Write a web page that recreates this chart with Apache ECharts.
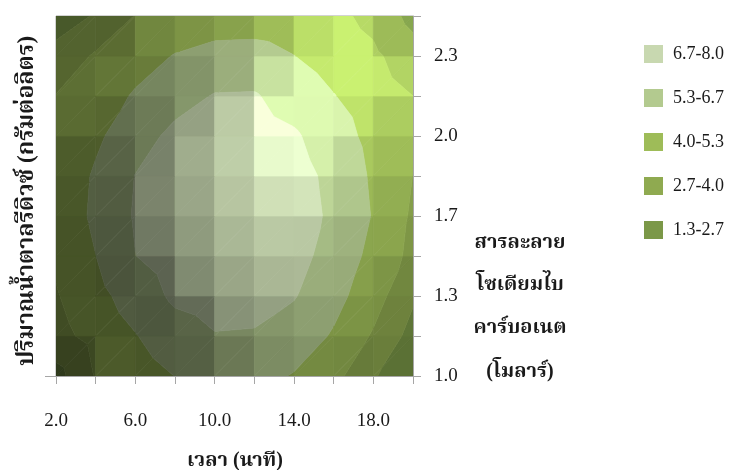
<!DOCTYPE html>
<html><head><meta charset="utf-8">
<script src="https://cdn.jsdelivr.net/npm/echarts@6/dist/echarts.min.js"></script>
<style>html,body{margin:0;padding:0;background:#fff}#c{width:731px;height:470px}</style>
</head><body><div id="c"></div>
<script>
// ---- data ----
const xValues = [2, 4, 6, 8, 10, 12, 14, 16, 18, 20];
const yValues = [1.0, 1.1667, 1.3333, 1.5, 1.6667, 1.8333, 2.0, 2.1667, 2.3333, 2.5];
// z values at grid vertices, one array per y value (columns follow xValues)
const z_y100 = [2.20, 4.10, 4.71, 5.35, 5.80, 5.75, 5.25, 4.43, 2.80, 1.60];
const z_y117 = [3.55, 4.47, 5.27, 6.10, 6.60, 6.55, 6.05, 5.20, 3.85, 2.20];
const z_y133 = [3.90, 4.92, 5.94, 6.91, 7.19, 7.14, 6.75, 5.75, 4.59, 2.85];
const z_y150 = [4.20, 5.32, 6.65, 7.27, 7.55, 7.49, 7.10, 6.19, 4.97, 3.65];
const z_y167 = [4.45, 5.58, 6.79, 7.40, 7.68, 7.63, 7.24, 6.44, 5.25, 3.80];
const z_y183 = [4.35, 5.50, 6.70, 7.31, 7.59, 7.54, 7.15, 6.34, 5.14, 3.98];
const z_y200 = [4.15, 5.10, 6.10, 7.00, 7.28, 7.23, 6.84, 5.94, 4.94, 4.00];
const z_y217 = [4.05, 4.65, 5.47, 6.15, 6.75, 6.78, 6.08, 5.38, 4.65, 4.00];
const z_y233 = [3.10, 4.17, 4.78, 5.40, 5.72, 5.75, 5.35, 4.78, 4.25, 3.25];
const z_y250 = [2.00, 2.78, 4.05, 4.45, 4.70, 4.75, 4.60, 4.35, 3.62, 2.25];
const zRows = [z_y100, z_y117, z_y133, z_y150, z_y167, z_y183, z_y200, z_y217, z_y233, z_y250];

const bandEdges = [1.333, 2.667, 4.0, 5.333, 6.667, 8.0];
const bandLabels = ['1.3-2.7', '2.7-4.0', '4.0-5.3', '5.3-6.7', '6.7-8.0'];
const xTickLabels = ['2.0', '6.0', '10.0', '14.0', '18.0'];
const yTickLabels = ['1.0', '1.3', '1.7', '2.0', '2.3'];

// ---- style ----
const bandColors = ['#7b9848', '#8faa50', '#9ebc58', '#b3ca8f', '#c8d8b0'];
const SERIF = "'Liberation Serif','Times New Roman',serif";
const THAI = "'Liberation Serif','Noto Serif Thai','Noto Sans Thai','Loma','Garuda','Norasi',serif";
const AXIS_GRAY = '#a6a6a6';
const TEXT = '#1a1a1a';
const H = (function(){const v=[0.5,0.4,0.77];const l=Math.hypot(v[0],v[1],v[2]);return v.map(a=>a/l);})();

function shadeColor(hex, f) {
  const r = parseInt(hex.slice(1,3),16), g = parseInt(hex.slice(3,5),16), b = parseInt(hex.slice(5,7),16);
  const c = v => Math.max(0, Math.min(255, Math.round(v * f)));
  return 'rgb(' + c(r) + ',' + c(g) + ',' + c(b) + ')';
}
function lightFactor(gx, gy) {
  const len = Math.hypot(gx, gy, 1);
  const nx = -gx/len, ny = -gy/len, nz = 1/len;
  let d = 0.27 + 0.36*nx + 0.25*ny + 0.6*nz;
  if (d < 0.5) d = 0.5 - (0.5 - d) * 0.4;
  const s = Math.max(0, nx*H[0] + ny*H[1] + nz*H[2]);
  return d + 0.27 * Math.pow(s, 20);
}
function clipPoly(poly, level, keepAbove) {
  const out = [];
  const inside = p => keepAbove ? p[2] >= level : p[2] <= level;
  for (let k = 0; k < poly.length; k++) {
    const a = poly[k], b = poly[(k+1) % poly.length];
    const ia = inside(a), ib = inside(b);
    if (ia) out.push(a);
    if (ia !== ib) {
      const t = (level - a[2]) / (b[2] - a[2]);
      out.push([a[0] + t*(b[0]-a[0]), a[1] + t*(b[1]-a[1]), level]);
    }
  }
  return out;
}

const cells = [];
for (let j = 0; j < yValues.length - 1; j++)
  for (let i = 0; i < xValues.length - 1; i++)
    cells.push([xValues[i], yValues[j], i, j]);

function renderItem(params, api) {
  const i = api.value(2), j = api.value(3);
  const P = (a, b) => { const c = api.coord([xValues[a], yValues[b]]); return [c[0], c[1], zRows[b][a]]; };
  const p00 = P(i, j), p10 = P(i+1, j), p11 = P(i+1, j+1), p01 = P(i, j+1);
  const gx = ((p10[2]-p00[2]) + (p11[2]-p01[2])) / 2;
  const gy = ((p01[2]-p00[2]) + (p11[2]-p10[2])) / 2;
  const f = lightFactor(gx, gy);
  const children = [];
  [[p00, p10, p11], [p00, p11, p01]].forEach(tri => {
    for (let b = 0; b < bandColors.length; b++) {
      let poly = tri;
      if (b > 0) poly = clipPoly(poly, bandEdges[b], true);
      if (poly.length >= 3 && b < bandColors.length - 1) poly = clipPoly(poly, bandEdges[b+1], false);
      if (poly.length < 3) continue;
      const col = shadeColor(bandColors[b], f);
      children.push({ type: 'polygon', shape: { points: poly.map(p => [p[0], p[1]]) },
        style: { fill: col, stroke: col, lineWidth: 0.7 } });
    }
  });
  return { type: 'group', children };
}

const legendSeries = bandLabels.map((lab, k) => ({
  type: 'bar', name: lab, data: [], itemStyle: { color: bandColors[k], opacity: 1 }
}));

const chart = echarts.init(document.getElementById('c'), null, { renderer: 'canvas' });
chart.setOption({
  animation: false,
  backgroundColor: '#fff',
  grid: { left: 56, top: 16, width: 357, height: 360, show: true, borderColor: AXIS_GRAY, borderWidth: 1, backgroundColor: 'transparent' },
  xAxis: {
    type: 'value', min: 2, max: 20, interval: 2, position: 'bottom',
    axisLine: { show: true, lineStyle: { color: AXIS_GRAY, width: 1 } },
    axisTick: { show: true, length: 8, lineStyle: { color: AXIS_GRAY } },
    splitLine: { show: false },
    axisLabel: { margin: 36, fontSize: 19, fontFamily: SERIF, color: TEXT,
      formatter: v => { const k = Math.round((v - 2) / 2); return (k % 2 === 0 && k/2 < xTickLabels.length) ? xTickLabels[k/2] : ''; } }
  },
  yAxis: {
    type: 'value', min: 1, max: 2.5, interval: 1/6, position: 'right',
    axisLine: { show: true, lineStyle: { color: AXIS_GRAY, width: 1 } },
    axisTick: { show: true, length: 8, lineStyle: { color: AXIS_GRAY } },
    splitLine: { show: false },
    axisLabel: { margin: 21, fontSize: 19, fontFamily: SERIF, color: TEXT,
      formatter: v => { const k = Math.round((v - 1) * 6); return (k % 2 === 0 && k/2 < yTickLabels.length) ? yTickLabels[k/2] : ''; } }
  },
  legend: {
    orient: 'vertical', left: 639, top: 40, itemWidth: 19, itemHeight: 18, itemGap: 26,
    icon: 'rect', selectedMode: false,
    data: bandLabels.slice().reverse(),
    textStyle: { fontSize: 18, fontFamily: SERIF, color: TEXT, padding: [0, 0, 0, 5] }
  },
  graphic: [
    { type: 'line', shape: { x1: 45, y1: 376.5, x2: 56, y2: 376.5 }, style: { stroke: AXIS_GRAY, lineWidth: 1 } },
    { type: 'text', x: 235, y: 461, style: { text: 'เวลา (นาที)', font: 'bold 20px ' + THAI, fill: TEXT, textAlign: 'center', textVerticalAlign: 'middle' } },
    { type: 'text', x: 27, y: 201, rotation: Math.PI / 2, style: { text: 'ปริมาณน้ำตาลรีดิวซ์ (กรัมต่อลิตร)', font: 'bold 23px ' + THAI, fill: TEXT, textAlign: 'center', textVerticalAlign: 'middle' } },
    { type: 'text', x: 520, y: 243, style: { text: 'สารละลาย', font: 'bold 20px ' + THAI, fill: TEXT, textAlign: 'center', textVerticalAlign: 'middle' } },
    { type: 'text', x: 520, y: 285, style: { text: 'โซเดียมไบ', font: 'bold 20px ' + THAI, fill: TEXT, textAlign: 'center', textVerticalAlign: 'middle' } },
    { type: 'text', x: 520, y: 328, style: { text: 'คาร์บอเนต', font: 'bold 20px ' + THAI, fill: TEXT, textAlign: 'center', textVerticalAlign: 'middle' } },
    { type: 'text', x: 520, y: 372, style: { text: '(โมลาร์)', font: 'bold 20px ' + THAI, fill: TEXT, textAlign: 'center', textVerticalAlign: 'middle' } }
  ],
  series: [
    { type: 'custom', renderItem: renderItem, data: cells, clip: true, silent: true, encode: { x: 0, y: 1 }, z: 1 }
  ].concat(legendSeries)
});
</script></body></html>
